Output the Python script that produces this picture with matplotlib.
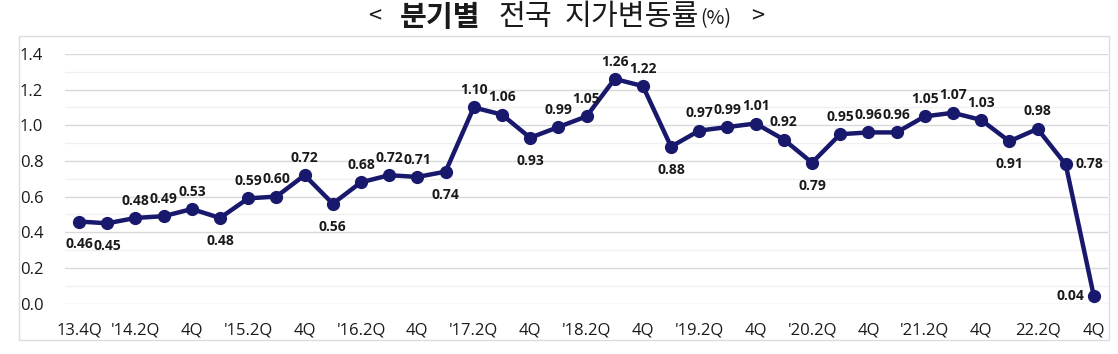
import matplotlib
matplotlib.use("Agg")
import matplotlib.pyplot as plt
from matplotlib.patches import Rectangle
from matplotlib.ticker import MultipleLocator

# quarterly national land price change rate (%), 2013 Q4 .. 2022 Q4
quarters = ["13.4Q", "14.1Q", "'14.2Q", "14.3Q", "4Q",
            "15.1Q", "'15.2Q", "15.3Q", "4Q",
            "16.1Q", "'16.2Q", "16.3Q", "4Q",
            "17.1Q", "'17.2Q", "17.3Q", "4Q",
            "18.1Q", "'18.2Q", "18.3Q", "4Q",
            "19.1Q", "'19.2Q", "19.3Q", "4Q",
            "20.1Q", "'20.2Q", "20.3Q", "4Q",
            "21.1Q", "'21.2Q", "21.3Q", "4Q",
            "22.1Q", "22.2Q", "22.3Q", "4Q"]
rates = [0.46, 0.45, 0.48, 0.49, 0.53, 0.48, 0.59, 0.60, 0.72, 0.56,
         0.68, 0.72, 0.71, 0.74, 1.10, 1.06, 0.93, 0.99, 1.05, 1.26,
         1.22, 0.88, 0.97, 0.99, 1.01, 0.92, 0.79, 0.95, 0.96, 0.96,
         1.05, 1.07, 1.03, 0.91, 0.98, 0.78, 0.04]

# where each data label sits relative to its point
label_pos = ["b", "b", "a", "a", "a", "b", "a", "a", "a", "b",
             "a", "a", "a", "b", "a", "a", "b", "a", "a", "a",
             "a", "b", "a", "a", "a", "a", "b", "a", "a", "a",
             "a", "a", "a", "b", "a", "r", "l"]

W, H = 1118, 354
NAVY = "#18186c"
TXT = "#1a1a1a"


def main():
    fig = plt.figure(figsize=(W / 100, H / 100), dpi=100)
    ax = fig.add_axes([65 / W, 1 - 303.5 / H, (1108 - 65) / W, (303.5 - 54) / H])

    # outer chart border
    fig.patches.append(Rectangle((19 / W, 1 - 340 / H), (1109 - 19) / W, (340 - 36) / H,
                                 transform=fig.transFigure, fill=False,
                                 edgecolor="#dcdcdc", lw=1))

    x = list(range(len(rates)))
    ax.plot(x, rates, color=NAVY, lw=3.2, marker="o", ms=8.5,
            solid_joinstyle="round", zorder=3)

    for i, v in enumerate(rates):
        p = label_pos[i]
        if p == "a":
            off, ha = (0, 12.5), "center"
        elif p == "b":
            off, ha = (0, -16.5), "center"
        elif p == "r":
            off, ha = (7, 0), "left"
        else:
            off, ha = (-7, 0), "right"
        ax.annotate("%.2f" % v, (i, v), xytext=off, textcoords="offset points",
                    ha=ha, va="center", fontsize=10, fontweight="bold",
                    family="Open Sans", color=TXT, annotation_clip=False, zorder=4)

    ax.set_xlim(-0.5, len(rates) - 0.5)
    ax.set_ylim(0, 1.4)
    ax.yaxis.set_major_locator(MultipleLocator(0.2))
    ax.yaxis.set_minor_locator(MultipleLocator(0.1))
    ax.grid(axis="y", which="major", color="#d9d9d9", lw=1)
    ax.grid(axis="y", which="minor", color="#f0f0f0", lw=1)
    ax.set_axisbelow(True)
    for s in ax.spines.values():
        s.set_visible(False)

    ax.set_xticks(x[::2])
    ax.set_xticklabels(quarters[::2])
    ax.tick_params(axis="x", length=0, pad=13.5, labelsize=12, labelcolor=TXT)
    ax.tick_params(axis="y", which="both", length=0, pad=32.4, labelsize=12, labelcolor=TXT)
    ax.set_yticks([0.0, 0.2, 0.4, 0.6, 0.8, 1.0, 1.2, 1.4])
    ax.set_yticklabels(["%.1f" % t for t in ax.get_yticks()])
    for lab in ax.get_xticklabels() + ax.get_yticklabels():
        lab.set_family("Open Sans")
        lab.set_fontweight("medium")
    for lab in ax.get_yticklabels():
        lab.set_ha("left")

    kr = "Noto Sans CJK KR"
    pieces = [("<", 17, "normal", 0, 0),
              ("분기별", 21, "bold", 19, 0),
              ("전국", 21, "normal", 18, 0),
              ("지가변동률", 21, "normal", 12, 0),
              ("(%)", 14, "normal", 1, 2),
              (">", 17, "normal", 20, 0)]
    xpos = 368
    fig.canvas.draw()
    r = fig.canvas.get_renderer()
    for s, size, weight, gap, dy in pieces:
        xpos += gap
        t = fig.text(xpos / W, 1 - (17 + dy) / H, s, family=kr, fontsize=size,
                     fontweight=weight, va="center", color=TXT)
        xpos = t.get_window_extent(renderer=r).x1

    fig.savefig("out.png", dpi=100)
    plt.close(fig)


if __name__ == "__main__":
    main()
